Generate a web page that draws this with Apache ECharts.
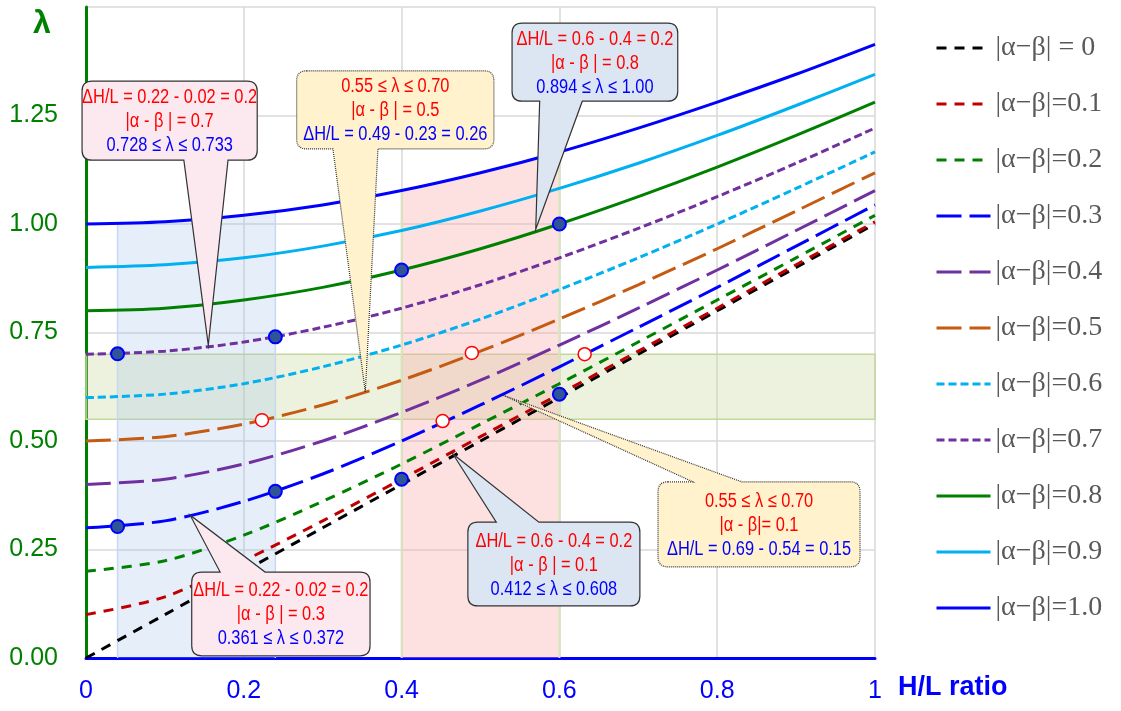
<!DOCTYPE html>
<html><head><meta charset="utf-8">
<script src="https://cdn.jsdelivr.net/npm/echarts@6/dist/echarts.min.js"></script>
<style>html,body{margin:0;padding:0;background:#fff}#c{width:1121px;height:711px}</style>
</head><body><div id="c"></div>
<script>
// ---------- data ----------
const xValues = [0, 0.1, 0.2, 0.3, 0.4, 0.5, 0.6, 0.7, 0.8, 0.9, 1.0];
const seriesNames = ['|α−β| = 0','|α−β|=0.1','|α−β|=0.2','|α−β|=0.3','|α−β|=0.4','|α−β|=0.5','|α−β|=0.6','|α−β|=0.7','|α−β|=0.8','|α−β|=0.9','|α−β|=1.0'];
const lambda00 = [0.000, 0.100, 0.200, 0.300, 0.400, 0.500, 0.600, 0.700, 0.800, 0.900, 1.000];
const lambda01 = [0.100, 0.141, 0.224, 0.316, 0.412, 0.510, 0.608, 0.707, 0.806, 0.906, 1.005];
const lambda02 = [0.200, 0.224, 0.283, 0.361, 0.447, 0.539, 0.632, 0.728, 0.825, 0.922, 1.020];
const lambda03 = [0.300, 0.316, 0.361, 0.424, 0.500, 0.583, 0.671, 0.762, 0.854, 0.949, 1.044];
const lambda04 = [0.400, 0.412, 0.447, 0.500, 0.566, 0.640, 0.721, 0.806, 0.894, 0.985, 1.077];
const lambda05 = [0.500, 0.510, 0.539, 0.583, 0.640, 0.707, 0.781, 0.860, 0.943, 1.030, 1.118];
const lambda06 = [0.600, 0.608, 0.632, 0.671, 0.721, 0.781, 0.849, 0.922, 1.000, 1.082, 1.166];
const lambda07 = [0.700, 0.707, 0.728, 0.762, 0.806, 0.860, 0.922, 0.990, 1.063, 1.140, 1.221];
const lambda08 = [0.800, 0.806, 0.825, 0.854, 0.894, 0.943, 1.000, 1.063, 1.131, 1.204, 1.281];
const lambda09 = [0.900, 0.906, 0.922, 0.949, 0.985, 1.030, 1.082, 1.140, 1.204, 1.273, 1.345];
const lambda10 = [1.000, 1.005, 1.020, 1.044, 1.077, 1.118, 1.166, 1.221, 1.281, 1.345, 1.414];
const curveValues = [lambda00, lambda01, lambda02, lambda03, lambda04, lambda05, lambda06, lambda07, lambda08, lambda09, lambda10];

const filledPointsX = [0.04, 0.24, 0.04, 0.24, 0.40, 0.60, 0.40, 0.60];
const filledPointsY = [0.701, 0.740, 0.303, 0.384, 0.894, 1.000, 0.412, 0.608];
const hollowPointsX = [0.223, 0.489, 0.452, 0.632];
const hollowPointsY = [0.548, 0.703, 0.546, 0.700];

const bandLeftX   = [0.04, 0.09, 0.14, 0.19, 0.24];
const bandLeftTop = [1.001, 1.004, 1.010, 1.018, 1.028];
const bandMidX    = [0.40, 0.45, 0.50, 0.55, 0.60];
const bandMidTop  = [1.077, 1.097, 1.118, 1.141, 1.166];
const lambdaBand  = [0.55, 0.70];

const xTickLabels = ['0', '0.2', '0.4', '0.6', '0.8', '1'];
const yTickLabels = ['0.00', '0.25', '0.50', '0.75', '1.00', '1.25', ''];

const calloutTexts = [
  ['ΔH/L = 0.22 - 0.02 = 0.2', '|α - β | = 0.7', '0.728 ≤ λ ≤ 0.733'],
  ['0.55 ≤ λ ≤ 0.70', '|α - β | = 0.5', 'ΔH/L = 0.49 - 0.23 = 0.26'],
  ['ΔH/L = 0.6 - 0.4 = 0.2', '|α - β | = 0.8', '0.894 ≤ λ ≤ 1.00'],
  ['ΔH/L = 0.22 - 0.02 = 0.2', '|α - β | = 0.3', '0.361 ≤ λ ≤ 0.372'],
  ['ΔH/L = 0.6 - 0.4 = 0.2', '|α - β | = 0.1', '0.412 ≤ λ ≤ 0.608'],
  ['0.55 ≤ λ ≤ 0.70', '|α - β|= 0.1', 'ΔH/L = 0.69 - 0.54 = 0.15']
];

// ---------- styling / layout ----------
const SANS = '"Liberation Sans",Arial,sans-serif';
const curveColors = ['#000000','#c00000','#008000','#0000ff','#7030a0','#c55a11','#00b0f0','#7030a0','#008000','#00b0f0','#0000ff'];
const curveDash = [[10,8],[10,8],[10,8],[25,8],[25,8],[25,8],[8,4],[8,4],'solid','solid','solid'];

// callout annotation geometry in data units: tip, box [left, top, right, bottom], base [x1,x2], side of pointer
const calloutGeom = [
  {tip:[0.155,0.721], box:[-0.005,1.329,0.217,1.147], base:[0.124,0.180], side:'bottom', fill:'#fce8ef', dotted:false},
  {tip:[0.354,0.613], box:[0.267,1.353,0.517,1.173], base:[0.313,0.370], side:'bottom', fill:'#fff2cc', dotted:true},
  {tip:[0.570,0.988], box:[0.540,1.463,0.750,1.283], base:[0.575,0.629], side:'bottom', fill:'#dce6f2', dotted:false},
  {tip:[0.132,0.329], box:[0.134,0.198,0.360,0.005], base:[0.170,0.227], side:'top', fill:'#fce8ef', dotted:false},
  {tip:[0.465,0.470], box:[0.484,0.313,0.702,0.120], base:[0.520,0.574], side:'top', fill:'#dce6f2', dotted:false},
  {tip:[0.528,0.606], box:[0.725,0.406,0.981,0.210], base:[0.769,0.831], side:'top', fill:'#fff2cc', dotted:true}
];
const calloutLineColors = ['#ff0000', '#ff0000', '#0000ff'];

function renderCallout(params, api) {
  const g = calloutGeom[params.dataIndex];
  const texts = calloutTexts[params.dataIndex];
  const tip = api.coord(g.tip);
  const tl = api.coord([g.box[0], g.box[1]]);
  const br = api.coord([g.box[2], g.box[3]]);
  const b1 = api.coord([g.base[0], 0])[0];
  const b2 = api.coord([g.base[1], 0])[0];
  const x0 = tl[0], y0 = tl[1], x1 = br[0], y1 = br[1], r = 10;
  let d;
  if (g.side === 'bottom') {
    d = `M${x0+r},${y0} L${x1-r},${y0} Q${x1},${y0} ${x1},${y0+r} L${x1},${y1-r} Q${x1},${y1} ${x1-r},${y1} ` +
        `L${b2},${y1} L${tip[0]},${tip[1]} L${b1},${y1} L${x0+r},${y1} Q${x0},${y1} ${x0},${y1-r} L${x0},${y0+r} Q${x0},${y0} ${x0+r},${y0} Z`;
  } else {
    d = `M${x0+r},${y0} L${b1},${y0} L${tip[0]},${tip[1]} L${b2},${y0} L${x1-r},${y0} Q${x1},${y0} ${x1},${y0+r} ` +
        `L${x1},${y1-r} Q${x1},${y1} ${x1-r},${y1} L${x0+r},${y1} Q${x0},${y1} ${x0},${y1-r} L${x0},${y0+r} Q${x0},${y0} ${x0+r},${y0} Z`;
  }
  const cx = (x0 + x1) / 2, cy = (y0 + y1) / 2;
  const children = [{
    type: 'path',
    shape: {pathData: d},
    style: {fill: g.fill, stroke: '#333333', lineWidth: 1.2, lineDash: g.dotted ? [1, 1] : null}
  }];
  texts.forEach((t, i) => {
    children.push({
      type: 'text',
      x: cx, y: cy + 1 + (i - 1) * 24, scaleX: 0.82,
      style: {text: t, fill: calloutLineColors[i], font: '20px ' + SANS, align: 'center', verticalAlign: 'middle', textAlign: 'center', textVerticalAlign: 'middle'}
    });
  });
  return {type: 'group', children};
}

const series = [];
// shaded regions (area under the |α−β|=1.0 curve between H/L bounds)
function bandData(xs, tops) {
  const pts = [[xs[0], 0]];
  xs.forEach((x, i) => pts.push([x, tops[i]]));
  pts.push([xs[xs.length - 1], 0]);
  return pts;
}
series.push({
  type: 'line', name: 'bandLeft', data: bandData(bandLeftX, bandLeftTop), symbol: 'none', silent: true, z: 1,
  lineStyle: {color: '#c6d9f1', width: 1.5}, areaStyle: {color: 'rgba(155,190,230,0.25)', opacity: 1},
  markArea: {silent: true, itemStyle: {color: 'rgba(196,215,155,0.33)', borderColor: '#c4d79b', borderWidth: 1.5},
    data: [[{xAxis: 0, yAxis: lambdaBand[0]}, {xAxis: 1, yAxis: lambdaBand[1]}]]}
});
series.push({
  type: 'line', name: 'bandMid', data: bandData(bandMidX, bandMidTop), symbol: 'none', silent: true, z: 1,
  lineStyle: {color: '#d7e4bd', width: 2}, areaStyle: {color: 'rgba(250,170,170,0.35)', opacity: 1}
});
curveValues.forEach((vals, k) => {
  series.push({
    type: 'line', name: seriesNames[k], data: xValues.map((x, i) => [x, vals[i]]),
    symbol: 'none', smooth: 0.3, z: 3,
    lineStyle: {color: curveColors[k], width: 3, type: curveDash[k], cap: 'butt'},
    itemStyle: {color: curveColors[k]}
  });
});
series.push({
  type: 'scatter', name: 'filled', data: filledPointsX.map((x, i) => [x, filledPointsY[i]]),
  symbol: 'circle', symbolSize: 13, z: 6, silent: true,
  itemStyle: {color: '#2f5597', borderColor: '#0000ff', borderWidth: 2, opacity: 1}
});
series.push({
  type: 'scatter', name: 'hollow', data: hollowPointsX.map((x, i) => [x, hollowPointsY[i]]),
  symbol: 'circle', symbolSize: 13, z: 6, silent: true,
  itemStyle: {color: '#ffffff', borderColor: '#ff0000', borderWidth: 1.5, opacity: 1}
});
series.push({
  type: 'custom', name: 'callouts', renderItem: renderCallout, z: 10, silent: true, clip: false,
  data: calloutGeom.map(g => g.tip), encode: {x: 0, y: 1}
});

const chart = echarts.init(document.getElementById('c'), null, {renderer: 'canvas'});
chart.setOption({
  animation: false,
  backgroundColor: '#ffffff',
  grid: {left: 86, right: 246, top: 7, bottom: 53, containLabel: false},
  xAxis: {
    type: 'value', min: 0, max: 1, interval: 0.2,
    axisLine: {show: true, onZero: false, lineStyle: {color: '#0000ff', width: 3}},
    axisTick: {show: false},
    splitLine: {show: true, lineStyle: {color: '#d9d9d9', width: 1.5}},
    axisLabel: {color: '#0000ff', fontSize: 25, fontFamily: SANS, margin: 21,
      formatter: (v) => xTickLabels[Math.round(v / 0.2)]}
  },
  yAxis: {
    type: 'value', min: 0, max: 1.5, interval: 0.25,
    axisLine: {show: true, onZero: false, lineStyle: {color: '#008000', width: 3}},
    axisTick: {show: false},
    splitLine: {show: true, lineStyle: {color: '#d9d9d9', width: 1.5}},
    axisLabel: {color: '#008000', fontSize: 25, fontFamily: SANS, margin: 28,
      formatter: (v) => yTickLabels[Math.round(v / 0.25)]}
  },
  legend: {
    orient: 'vertical', left: 930, top: 28,
    itemWidth: 54, itemHeight: 2, itemGap: 26,
    data: seriesNames,
    itemStyle: {opacity: 0},
    lineStyle: {width: 3},
    textStyle: {fontFamily: '"Liberation Serif","Times New Roman",serif', fontSize: 28, color: '#595959', lineHeight: 30, padding: [0, 0, 0, 0]},
    selectedMode: false
  },
  graphic: [
    {type: 'text', left: 33, top: 8, style: {text: 'λ', fill: '#008000', font: 'bold 32px "Liberation Sans",Arial,sans-serif'}},
    {type: 'text', left: 898, top: 674, style: {text: 'H/L ratio', fill: '#0000ff', font: 'bold 27px "Liberation Sans",Arial,sans-serif'}}
  ],
  series
});
</script>
</body></html>
